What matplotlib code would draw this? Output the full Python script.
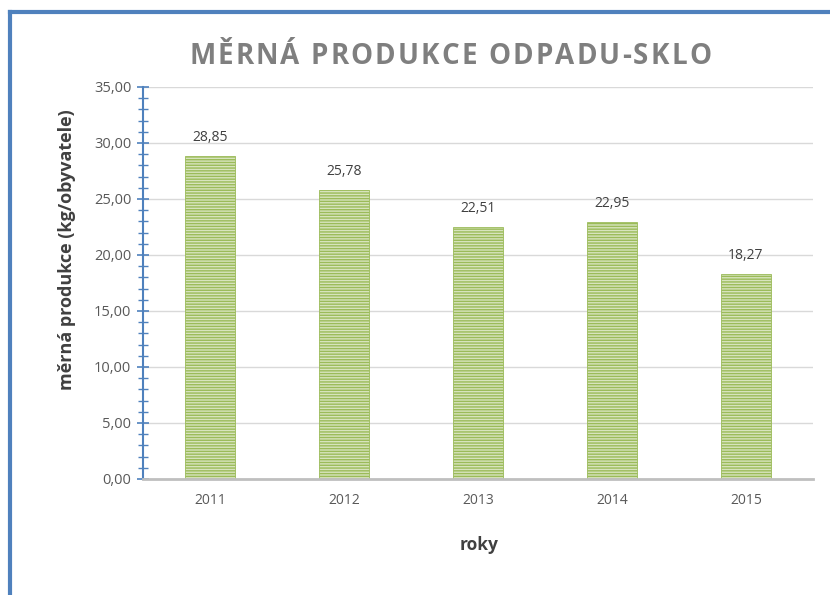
import matplotlib.pyplot as plt
from matplotlib.lines import Line2D
from matplotlib.ticker import MultipleLocator

# data
roky = ['2011', '2012', '2013', '2014', '2015']
produkce = [28.85, 25.78, 22.51, 22.95, 18.27]
nadpis = 'MĚRNÁ PRODUKCE ODPADU-SKLO'

plt.rcParams['font.family'] = ['Open Sans', 'DejaVu Sans']
plt.rcParams['hatch.linewidth'] = 1.0
plt.rcParams['hatch.color'] = '#9BBB59'

fig = plt.figure(figsize=(8.3, 5.95), dpi=100)
ax = fig.add_axes([143 / 830, 1 - 479 / 595, 670 / 830, 392 / 595])

x = range(len(roky))
ax.bar(x, produkce, width=0.37, color='#D7E4BD', edgecolor='#9BBB59',
       linewidth=0.6, hatch='------', zorder=3)

for xi, v in zip(x, produkce):
    ax.text(xi, v + 1.0, f'{v:.2f}'.replace('.', ','), ha='center', va='bottom',
            fontsize=10, color='#404040')

ax.set_xlim(-0.5, len(roky) - 0.5)
ax.set_ylim(0, 35)
ax.set_xticks(list(x))
ax.set_xticklabels(roky, fontsize=10, color='#595959')
ax.yaxis.set_major_locator(MultipleLocator(5))
ax.yaxis.set_minor_locator(MultipleLocator(1))
ax.set_yticklabels([f'{v:.2f}'.replace('.', ',') for v in ax.get_yticks()],
                   fontsize=10.5, color='#595959')

ax.tick_params(axis='y', which='major', direction='inout', length=9, width=1.2,
               color='#4F81BD', pad=4)
ax.tick_params(axis='y', which='minor', direction='inout', length=7, width=1.0,
               color='#4F81BD')
ax.tick_params(axis='x', length=0, pad=10)

ax.grid(axis='y', color='#D9D9D9', linewidth=1.0, zorder=0)
for s in ['top', 'right']:
    ax.spines[s].set_visible(False)
ax.spines['left'].set_color('#4F81BD')
ax.spines['left'].set_linewidth(1.5)
ax.spines['bottom'].set_color('#BFBFBF')
ax.spines['bottom'].set_linewidth(2)
ax.spines['bottom'].set_zorder(4)

# title with letter spacing: place characters one by one
renderer = fig.canvas.get_renderer()
title_left, title_right, title_y = 189, 711, 1 - 56 / 595
title_kw = dict(fontsize=20, fontweight='bold', color='#7F7F7F')
chars = []
for ch in nadpis:
    t = fig.text(0, title_y, ch, ha='left', va='center', **title_kw)
    chars.append(t)
widths = [t.get_window_extent(renderer).width for t in chars]
space_w = fig.text(0, 0, 'n n', **title_kw).get_window_extent(renderer).width
nn_w = fig.text(0, 0, 'nn', **title_kw).get_window_extent(renderer).width
fig.texts[-2:] = []
word_space = space_w - nn_w
widths = [w if ch != ' ' else word_space for w, ch in zip(widths, nadpis)]
gap = (title_right - title_left - sum(widths)) / (len(nadpis) - 1)
pos = title_left
for t, w in zip(chars, widths):
    t.set_x(pos / 830)
    pos += w + gap

fig.text(67 / 830, 1 - 250 / 595, 'měrná produkce (kg/obyvatele)', ha='center',
         va='center', rotation=90, fontsize=13, fontweight='bold', color='#404040')
fig.text(479 / 830, 1 - 545 / 595, 'roky', ha='center', va='center',
         fontsize=12.5, fontweight='bold', color='#404040')

# blue frame (only top and left edges visible in the crop)
fig.add_artist(Line2D([10 / 830, 1], [1 - 12 / 595] * 2, color='#4F81BD', lw=3))
fig.add_artist(Line2D([10 / 830] * 2, [0, 1 - 12 / 595], color='#4F81BD', lw=3))

plt.savefig('out.png', dpi=100)
